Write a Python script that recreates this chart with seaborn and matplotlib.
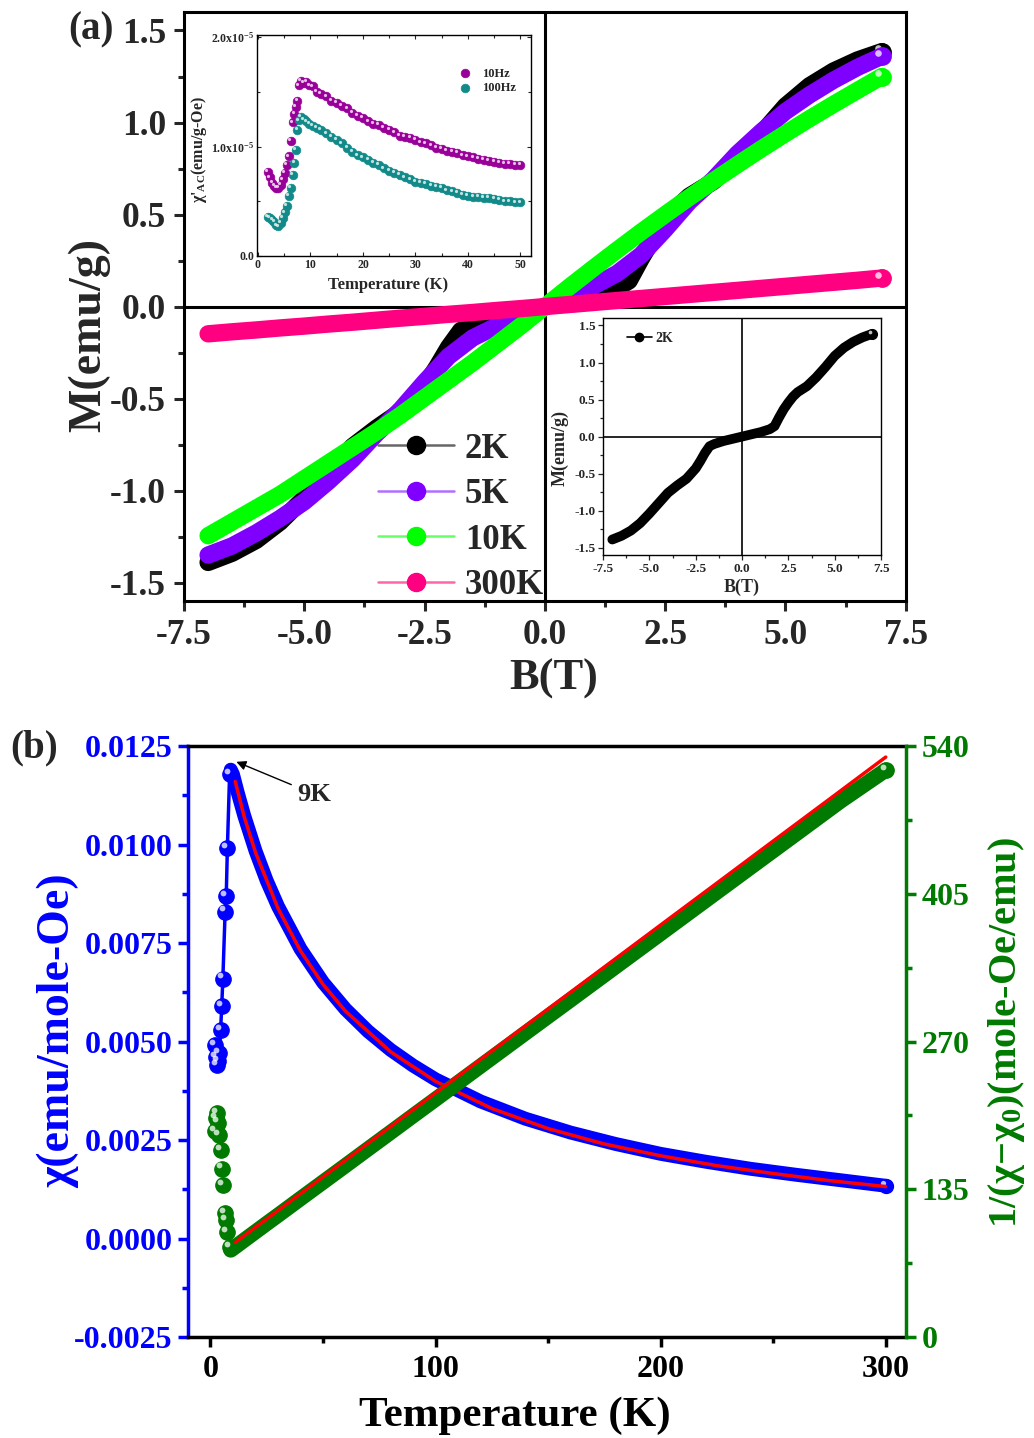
import numpy as np
import matplotlib
matplotlib.use("Agg")
import matplotlib.pyplot as plt
import matplotlib.transforms as mtransforms
from matplotlib.lines import Line2D
from matplotlib.ticker import MultipleLocator, FormatStrFormatter, FuncFormatter
import seaborn as sns

# ---------------- (a) M(B) at several temperatures ----------------
B_FIELD = [-7.0, -6.5, -6.0, -5.5, -5.0, -4.5, -4.0, -3.5, -3.0, -2.5, -2.0, -1.5, -1.0, -0.5, 0.0,
           0.5, 1.0, 1.5, 2.0, 2.5, 3.0, 3.5, 4.0, 4.5, 5.0, 5.5, 6.0, 6.5, 7.0]
M_5K = [-1.35, -1.30, -1.23, -1.15, -1.06, -0.95, -0.83, -0.69, -0.56, -0.41, -0.27, -0.17, -0.105, -0.05, 0.0,
        0.055, 0.11, 0.18, 0.28, 0.42, 0.57, 0.69, 0.83, 0.95, 1.06, 1.15, 1.23, 1.30, 1.36]
M_10K = [-1.245, -1.17, -1.095, -1.02, -0.935, -0.85, -0.765, -0.68, -0.59, -0.495, -0.40, -0.305, -0.205, -0.105, 0.0,
         0.105, 0.207, 0.307, 0.405, 0.50, 0.593, 0.683, 0.771, 0.857, 0.94, 1.021, 1.099, 1.175, 1.25]
M_300K = [-0.148, -0.137, -0.127, -0.116, -0.106, -0.095, -0.085, -0.074, -0.063, -0.053, -0.042, -0.032, -0.021, -0.011, 0.0,
          0.011, 0.022, 0.033, 0.044, 0.055, 0.066, 0.077, 0.088, 0.099, 0.110, 0.121, 0.132, 0.143, 0.155]

B_2K = [-7.0, -6.5, -6.0, -5.5, -5.0, -4.5, -4.0, -3.5, -3.0, -2.75, -2.5, -2.25, -2.0, -1.75, -1.5, -1.0, -0.5, 0.0,
        0.5, 1.0, 1.5, 1.75, 2.0, 2.25, 2.5, 2.75, 3.0, 3.5, 4.0, 4.5, 5.0, 5.5, 6.0, 6.5, 7.0]
M_2K = [-1.39, -1.34, -1.27, -1.17, -1.04, -0.90, -0.76, -0.66, -0.57, -0.50, -0.43, -0.33, -0.22, -0.13, -0.10, -0.06, -0.03, 0.0,
        0.03, 0.06, 0.10, 0.14, 0.26, 0.37, 0.46, 0.54, 0.60, 0.68, 0.80, 0.94, 1.09, 1.20, 1.28, 1.34, 1.385]

# ---------------- inset: AC susceptibility (units of 1e-5 emu/g-Oe) ----------------
T_AC = [1.9, 2.3, 2.7, 3.1, 3.5, 3.9, 4.3, 4.7, 5.1, 5.5, 5.9, 6.3, 6.6, 6.9, 7.2, 7.5, 7.8, 8.2, 8.7, 9.2,
        9.8, 10.5, 11.2, 12, 13, 14, 15, 16, 17, 18, 19, 20, 21, 22, 23, 24, 25, 26, 27, 28, 29, 30,
        31, 32, 33, 34, 35, 36, 37, 38, 39, 40, 41, 42, 43, 44, 45, 46, 47, 48, 49, 50]
CHI_10HZ = [0.77, 0.72, 0.67, 0.64, 0.62, 0.62, 0.65, 0.70, 0.76, 0.83, 0.91, 1.05, 1.22, 1.30, 1.36, 1.42, 1.56, 1.60, 1.58, 1.59,
            1.56, 1.55, 1.50, 1.48, 1.46, 1.42, 1.40, 1.37, 1.35, 1.31, 1.28, 1.26, 1.23, 1.21, 1.20, 1.17, 1.15, 1.13, 1.10, 1.09, 1.08, 1.06,
            1.04, 1.03, 1.01, 0.99, 0.98, 0.96, 0.95, 0.94, 0.92, 0.91, 0.90, 0.89, 0.88, 0.87, 0.86, 0.85, 0.84, 0.84, 0.83, 0.83]
CHI_100HZ = [0.36, 0.35, 0.33, 0.31, 0.28, 0.27, 0.30, 0.35, 0.40, 0.46, 0.55, 0.62, 0.74, 0.85, 0.97, 1.15, 1.24, 1.27, 1.25, 1.23,
             1.21, 1.19, 1.17, 1.15, 1.12, 1.09, 1.06, 1.03, 0.99, 0.95, 0.92, 0.90, 0.88, 0.85, 0.83, 0.80, 0.78, 0.76, 0.74, 0.72, 0.70, 0.68,
             0.67, 0.66, 0.64, 0.63, 0.62, 0.60, 0.59, 0.58, 0.56, 0.55, 0.54, 0.54, 0.53, 0.53, 0.52, 0.51, 0.50, 0.50, 0.49, 0.49]

# ---------------- (b) chi(T) and 1/(chi-chi0) ----------------
T_LOW = [2.0, 2.5, 3.0, 3.5, 4.0, 4.5, 5.0, 5.5, 6.5, 7.0, 7.5, 8.5]
CHI_LOW = [0.0049, 0.0046, 0.0044, 0.0045, 0.0047, 0.0053, 0.0059, 0.0066, 0.0083, 0.0087, 0.0099, 0.0118]
INV_LOW = [188, 200, 205, 196, 185, 171, 154, 139, 113, 107, 96, 82]

T_HIGH = [9, 10, 12, 15, 20, 25, 30, 40, 50, 60, 70, 80, 90, 100, 120, 140, 160, 180, 200, 220, 240, 260, 280, 300]
CHI_HIGH = [0.0119, 0.01178, 0.01134, 0.01073, 0.00984, 0.00908, 0.00843, 0.00735, 0.00650, 0.00582, 0.00526, 0.00479,
            0.00439, 0.00404, 0.00348, 0.00304, 0.00269, 0.00240, 0.00215, 0.00195, 0.00177, 0.00162, 0.00148, 0.00134]
INV_HIGH = [79.5, 81, 84, 88.6, 96.2, 103.8, 111.3, 126.5, 141.6, 156.7, 171.9, 187.0, 202.2, 217.3, 247.6, 277.9,
            308.1, 338.4, 368.7, 399.0, 429.3, 459.5, 489.8, 518.0]

T_FIT = [11, 15, 20, 30, 40, 50, 60, 80, 100, 125, 150, 175, 200, 225, 250, 275, 300]
CHI_FIT = [0.0116, 0.0107, 0.0098, 0.00838, 0.0073, 0.00645, 0.00577, 0.00474, 0.00399, 0.0033, 0.00279, 0.0024,
           0.0021, 0.00185, 0.00165, 0.00147, 0.00132]
INV_FIT = [86.5, 92.7, 100.3, 115.7, 131.0, 146.4, 161.7, 192.4, 223.1, 261.4, 299.8, 338.1, 376.5, 414.8, 453.2, 491.5, 529.9]

BLACK, PURPLE, LIME, PINK = "#000000", "#8000FF", "#00FF00", "#FF0080"
BLUE, DGREEN, RED = "#0000FF", "#007A00", "#FF0000"

sns.set_theme(style="ticks")
plt.rcParams["font.family"] = ["Liberation Serif", "DejaVu Serif"]
plt.rcParams["font.weight"] = "bold"
plt.rcParams["axes.labelweight"] = "bold"
plt.rcParams["axes.unicode_minus"] = False
plt.rcParams["mathtext.fontset"] = "custom"
plt.rcParams["mathtext.rm"] = "Liberation Serif:bold"
plt.rcParams["mathtext.it"] = "Liberation Serif:italic:bold"
plt.rcParams["mathtext.bf"] = "Liberation Serif:bold"
plt.rcParams["mathtext.default"] = "rm"


def shine(ax, x, y, ms, zorder=6):
    # small white highlight to mimic Origin's "ball" symbols
    off = mtransforms.offset_copy(ax.transData, fig=ax.figure, x=-0.2 * ms, y=0.2 * ms, units="points")
    ax.plot(x, y, ls="none", marker="o", ms=0.38 * ms, mfc="white", mec="none", alpha=0.75,
            transform=off, zorder=zorder)


def band(ax, x, y, color, lw, zorder):
    sns.lineplot(x=x, y=y, ax=ax, color=color, lw=lw, sort=False, estimator=None,
                 solid_capstyle="round", solid_joinstyle="round", legend=False, zorder=zorder)


def style_box(ax, lw):
    for s in ax.spines.values():
        s.set_visible(True)
        s.set_color("black")
        s.set_linewidth(lw)


fig = plt.figure(figsize=(10.34, 14.38), dpi=100)

# ======================= panel (a) =======================
ax = fig.add_axes([0.178, 0.582, 0.698, 0.4096])
style_box(ax, 2.2)
ax.axhline(0, color="black", lw=2.2, zorder=1)
ax.axvline(0, color="black", lw=2.2, zorder=1)

series = [(B_2K, M_2K, BLACK), (B_FIELD, M_5K, PURPLE), (B_FIELD, M_10K, LIME), (B_FIELD, M_300K, PINK)]
for i, (xb, ym, col) in enumerate(series):
    band(ax, xb, ym, col, 12.5, 2 + i)
    ax.plot(xb[-1:], ym[-1:], "o", color=col, ms=12.5, zorder=2 + i)
    shine(ax, xb[-1:], ym[-1:], 12.5, zorder=2 + i)

ax.set_xlim(-7.5, 7.5)
ax.set_ylim(-1.6, 1.6)
ax.xaxis.set_major_locator(MultipleLocator(2.5))
ax.xaxis.set_minor_locator(MultipleLocator(1.25))
ax.yaxis.set_major_locator(MultipleLocator(0.5))
ax.yaxis.set_minor_locator(MultipleLocator(0.25))
ax.xaxis.set_major_formatter(FormatStrFormatter("%.1f"))
ax.yaxis.set_major_formatter(FormatStrFormatter("%.1f"))
ax.tick_params(which="major", direction="out", length=7, width=2.2, labelsize=25.5, pad=6)
ax.tick_params(which="minor", direction="out", length=4, width=2.2)
ax.set_xlabel("B(T)", fontsize=32)
ax.set_ylabel("M(emu/g)", fontsize=33)
ax.xaxis.set_label_coords(0.512, -0.097)
ax.yaxis.set_label_coords(-0.102, 0.452)

leg_handles = [Line2D([], [], color=lc, lw=1.8, marker="o", ms=13, mfc=c, mec=c)
               for c, lc in [(BLACK, "#666666"), (PURPLE, "#B070FF"), (LIME, "#66FF66"), (PINK, "#FF66AA")]]
ax.legend(leg_handles, ["2K", "5K", "10K", "300K"], loc="upper left", bbox_to_anchor=(0.2687, 0.286),
          frameon=False, prop=dict(weight="bold", size=25), handlelength=2.2, handletextpad=0.3,
          labelspacing=0.36, borderpad=0, borderaxespad=0)

# ---------- inset 1: AC susceptibility ----------
ai = fig.add_axes([0.2485, 0.822, 0.265, 0.1537])
style_box(ai, 1.0)
sns.scatterplot(x=T_AC, y=CHI_10HZ, ax=ai, color="#990099", s=40, edgecolor="#990099", linewidth=0.4,
                label="10Hz", zorder=3)
sns.scatterplot(x=T_AC, y=CHI_100HZ, ax=ai, color="#138A8A", s=40, edgecolor="#138A8A", linewidth=0.4,
                label="100Hz", zorder=3)
shine(ai, T_AC, CHI_10HZ, 6, zorder=4)
shine(ai, T_AC, CHI_100HZ, 6, zorder=4)
ai.set_xlim(-0.2, 52)
ai.set_ylim(0, 2.02)
ai.xaxis.set_major_locator(MultipleLocator(10))
ai.xaxis.set_minor_locator(MultipleLocator(5))
ai.yaxis.set_major_locator(MultipleLocator(1.0))
ai.yaxis.set_minor_locator(MultipleLocator(0.5))
ai.yaxis.set_major_formatter(FuncFormatter(lambda v, p: "0.0" if abs(v) < 1e-9 else "%.1fx10$^{-5}$" % v))
ai.tick_params(which="both", direction="in", top=True, right=True, width=0.8, labelsize=8.5, pad=2)
ai.tick_params(which="major", length=3)
ai.tick_params(which="minor", length=2)
ai.set_xlabel("Temperature (K)", fontsize=12)
ai.set_ylabel("χ'$_{AC}$(emu/g-Oe)", fontsize=11.5)
ai.xaxis.set_label_coords(0.478, -0.095)
ai.yaxis.set_label_coords(-0.175, 0.48)
ai.legend(loc="upper left", bbox_to_anchor=(0.69, 0.88), frameon=False, prop=dict(weight="bold", size=9),
          handletextpad=0.4, labelspacing=0.2, borderpad=0, markerscale=1.0)

# ---------- inset 2: 2K loop ----------
aj = fig.add_axes([0.5832, 0.614, 0.2689, 0.1648])
style_box(aj, 1.0)
aj.axhline(0, color="black", lw=1.2, zorder=1)
aj.axvline(0, color="black", lw=1.2, zorder=1)
band(aj, B_2K, M_2K, BLACK, 7, 3)
aj.plot(B_2K[-1:], M_2K[-1:], "o", color=BLACK, ms=7, zorder=3)
shine(aj, B_2K[-1:], M_2K[-1:], 7, zorder=4)
aj.set_xlim(-7.5, 7.5)
aj.set_ylim(-1.6, 1.6)
aj.xaxis.set_major_locator(MultipleLocator(2.5))
aj.xaxis.set_minor_locator(MultipleLocator(1.25))
aj.yaxis.set_major_locator(MultipleLocator(0.5))
aj.yaxis.set_minor_locator(MultipleLocator(0.25))
aj.xaxis.set_major_formatter(FormatStrFormatter("%.1f"))
aj.yaxis.set_major_formatter(FormatStrFormatter("%.1f"))
aj.tick_params(which="major", direction="out", length=3.5, width=0.9, labelsize=9.5, pad=2)
aj.tick_params(which="minor", direction="out", length=2, width=0.9)
aj.set_xlabel("B(T)", fontsize=13)
aj.set_ylabel("M(emu/g)", fontsize=13)
aj.xaxis.set_label_coords(0.5, -0.1)
aj.yaxis.set_label_coords(-0.125, 0.45)
aj.legend([Line2D([], [], color=BLACK, lw=1.2, marker="o", ms=6)], ["2K"], loc="upper left",
          bbox_to_anchor=(0.06, 0.97), frameon=False, prop=dict(weight="bold", size=10),
          handlelength=1.8, handletextpad=0.3, borderpad=0)

# ======================= panel (b) =======================
bx = fig.add_axes([0.1818, 0.0702, 0.6944, 0.411])
bx2 = bx.twinx()
for s in bx.spines.values():
    s.set_linewidth(2.5)
bx.spines["top"].set_color("black")
bx.spines["bottom"].set_color("black")
bx.spines["left"].set_color(BLUE)
bx.spines["right"].set_visible(False)
bx2.spines["left"].set_visible(False)
bx2.spines["top"].set_visible(False)
bx2.spines["bottom"].set_visible(False)
bx2.spines["right"].set_color(DGREEN)
bx2.spines["right"].set_linewidth(2.5)

# chi(T)
sns.lineplot(x=T_LOW + T_HIGH[:1], y=CHI_LOW + CHI_HIGH[:1], ax=bx, color=BLUE, lw=2.5, sort=False,
             estimator=None, legend=False, zorder=2)
band(bx, T_HIGH, CHI_HIGH, BLUE, 10, 3)
bx.plot(T_LOW, CHI_LOW, "o", color=BLUE, ms=11, zorder=4)
shine(bx, T_LOW, CHI_LOW, 11, zorder=5)
bx.plot(T_HIGH[-1:], CHI_HIGH[-1:], "o", color=BLUE, ms=10, zorder=4)
shine(bx, T_HIGH[-1:], CHI_HIGH[-1:], 10, zorder=5)
sns.lineplot(x=T_FIT, y=CHI_FIT, ax=bx, color=RED, lw=2.5, sort=False, estimator=None, legend=False, zorder=6)

# 1/(chi - chi0)
band(bx2, T_HIGH, INV_HIGH, DGREEN, 11, 3)
bx2.plot(T_LOW, INV_LOW, "o", color=DGREEN, ms=11, zorder=4)
shine(bx2, T_LOW, INV_LOW, 11, zorder=5)
bx2.plot(T_HIGH[-1:], INV_HIGH[-1:], "o", color=DGREEN, ms=11, zorder=4)
shine(bx2, T_HIGH[-1:], INV_HIGH[-1:], 11, zorder=5)
sns.lineplot(x=T_FIT, y=INV_FIT, ax=bx2, color=RED, lw=2.5, sort=False, estimator=None, legend=False, zorder=6)

bx.annotate("9K", xy=(11.5, 0.0121), xytext=(38.5, 0.01128), ha="left", va="center",
            fontsize=19, fontweight="bold",
            arrowprops=dict(arrowstyle="-|>", color="black", lw=1.0, shrinkA=2, shrinkB=0, mutation_scale=14))

bx.set_xlim(-10, 309)
bx.set_ylim(-0.0025, 0.0125)
bx2.set_ylim(0, 540)
bx.xaxis.set_major_locator(MultipleLocator(100))
bx.xaxis.set_minor_locator(MultipleLocator(50))
bx.yaxis.set_major_locator(MultipleLocator(0.0025))
bx.yaxis.set_minor_locator(MultipleLocator(0.00125))
bx.yaxis.set_major_formatter(FormatStrFormatter("%.4f"))
bx2.yaxis.set_major_locator(MultipleLocator(135))
bx2.yaxis.set_minor_locator(MultipleLocator(67.5))

bx.tick_params(axis="x", which="major", direction="out", length=7, width=2.5, labelsize=23, colors="black", pad=6)
bx.tick_params(axis="x", which="minor", direction="out", length=4, width=2.5, colors="black")
bx.tick_params(axis="y", which="major", direction="out", length=7, width=2.5, labelsize=23, colors=BLUE, pad=4)
bx.tick_params(axis="y", which="minor", direction="out", length=4, width=2.5, colors=BLUE)
bx2.tick_params(axis="y", which="major", direction="out", length=7, width=2.5, labelsize=23, colors=DGREEN, pad=4)
bx2.tick_params(axis="y", which="minor", direction="out", length=4, width=2.5, colors=DGREEN)

bx.set_xlabel("Temperature (K)", fontsize=31, color="black")
bx.set_ylabel("χ(emu/mole-Oe)", fontsize=33, color=BLUE)
bx2.set_ylabel("1/(χ−χ$_0$)(mole-Oe/emu)", fontsize=29, color=DGREEN)
bx.xaxis.set_label_coords(0.455, -0.1)
bx.yaxis.set_label_coords(-0.152, 0.519)
bx2.yaxis.set_label_coords(1.112, 0.516)

fig.text(68 / 1034, 1 - 30 / 1438, "(a)", fontsize=28, fontweight="bold", ha="left", va="center")
fig.text(10 / 1034, 1 - 748 / 1438, "(b)", fontsize=28, fontweight="bold", ha="left", va="center")

fig.savefig("out.png", dpi=100)
